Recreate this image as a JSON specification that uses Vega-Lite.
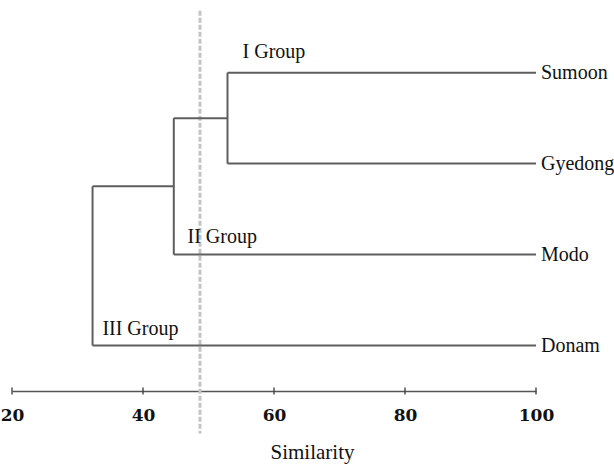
{
  "$schema": "https://vega.github.io/schema/vega-lite/v6.json",
  "autosize": {"type": "none"},
  "padding": {"left": 12, "top": 9, "right": 78, "bottom": 77},
  "width": 524,
  "height": 382,
  "background": "white",
  "config": {"view": {"stroke": null}, "font": "Liberation Serif"},
  "datasets": {
    "segments": [
      {"x1": 52.9, "x2": 100, "y1": 4, "y2": 4},
      {"x1": 52.9, "x2": 100, "y1": 3, "y2": 3},
      {"x1": 52.9, "x2": 52.9, "y1": 3, "y2": 4},
      {"x1": 44.7, "x2": 52.9, "y1": 3.5, "y2": 3.5},
      {"x1": 44.7, "x2": 100, "y1": 2, "y2": 2},
      {"x1": 44.7, "x2": 44.7, "y1": 2, "y2": 3.5},
      {"x1": 32.3, "x2": 44.7, "y1": 2.75, "y2": 2.75},
      {"x1": 32.3, "x2": 100, "y1": 1, "y2": 1},
      {"x1": 32.3, "x2": 32.3, "y1": 1, "y2": 2.75}
    ],
    "leaves": [
      {"name": "Sumoon", "x": 100, "y": 4},
      {"name": "Gyedong", "x": 100, "y": 3},
      {"name": "Modo", "x": 100, "y": 2},
      {"name": "Donam", "x": 100, "y": 1}
    ],
    "groups": [
      {"label": "I Group", "x": 55.2, "y": 4.23},
      {"label": "II Group", "x": 46.8, "y": 2.19},
      {"label": "III Group", "x": 33.8, "y": 1.18}
    ],
    "ticks": [{"v": 20}, {"v": 40}, {"v": 60}, {"v": 80}, {"v": 100}],
    "cut": [{"x": 48.7, "y1": 4.68, "y2": 0.033}]
  },
  "layer": [
    {
      "data": {"name": "cut"},
      "mark": {"type": "rule", "color": "#c4c4c4", "strokeWidth": 3, "strokeDash": [5, 2]},
      "encoding": {
        "x": {"field": "x", "type": "quantitative", "scale": {"domain": [20, 100], "nice": false, "zero": false}},
        "y": {"field": "y1", "type": "quantitative", "scale": {"domain": [0.5, 4.7], "nice": false, "zero": false}, "axis": null},
        "y2": {"field": "y2"}
      }
    },
    {
      "data": {"name": "segments"},
      "mark": {"type": "rule", "color": "#5e5e5e", "strokeWidth": 2},
      "encoding": {
        "x": {"field": "x1", "type": "quantitative", "scale": {"domain": [20, 100], "nice": false, "zero": false},
          "axis": {"values": [20, 40, 60, 80, 100], "title": "Similarity", "grid": false, "domainColor": "#555", "domainWidth": 1.5, "ticks": false, "labelFont": "DejaVu Serif", "labelFontSize": 17, "labelFontWeight": 600, "labelColor": "#111", "labelPadding": 16, "titleFont": "Liberation Serif", "titleFontSize": 21, "titleFontWeight": "normal", "titleColor": "#111", "titleX": 300, "titleY": 61, "titleBaseline": "middle", "titleAlign": "center", "labelFlush": false}},
        "x2": {"field": "x2"},
        "y": {"field": "y1", "type": "quantitative", "scale": {"domain": [0.5, 4.7], "nice": false, "zero": false}, "axis": null},
        "y2": {"field": "y2"}
      }
    },
    {
      "data": {"name": "ticks"},
      "mark": {"type": "tick", "color": "#444", "thickness": 2, "size": 7, "orient": "vertical"},
      "encoding": {
        "x": {"field": "v", "type": "quantitative"},
        "y": {"datum": 0.5, "type": "quantitative"}
      }
    },
    {
      "data": {"name": "leaves"},
      "mark": {"type": "text", "align": "left", "baseline": "middle", "dx": 5, "font": "Liberation Serif", "fontSize": 20, "color": "#111"},
      "encoding": {
        "x": {"field": "x", "type": "quantitative"},
        "y": {"field": "y", "type": "quantitative"},
        "text": {"field": "name"}
      }
    },
    {
      "data": {"name": "groups"},
      "mark": {"type": "text", "align": "left", "baseline": "middle", "font": "Liberation Serif", "fontSize": 20, "color": "#111"},
      "encoding": {
        "x": {"field": "x", "type": "quantitative"},
        "y": {"field": "y", "type": "quantitative"},
        "text": {"field": "label"}
      }
    }
  ]
}
